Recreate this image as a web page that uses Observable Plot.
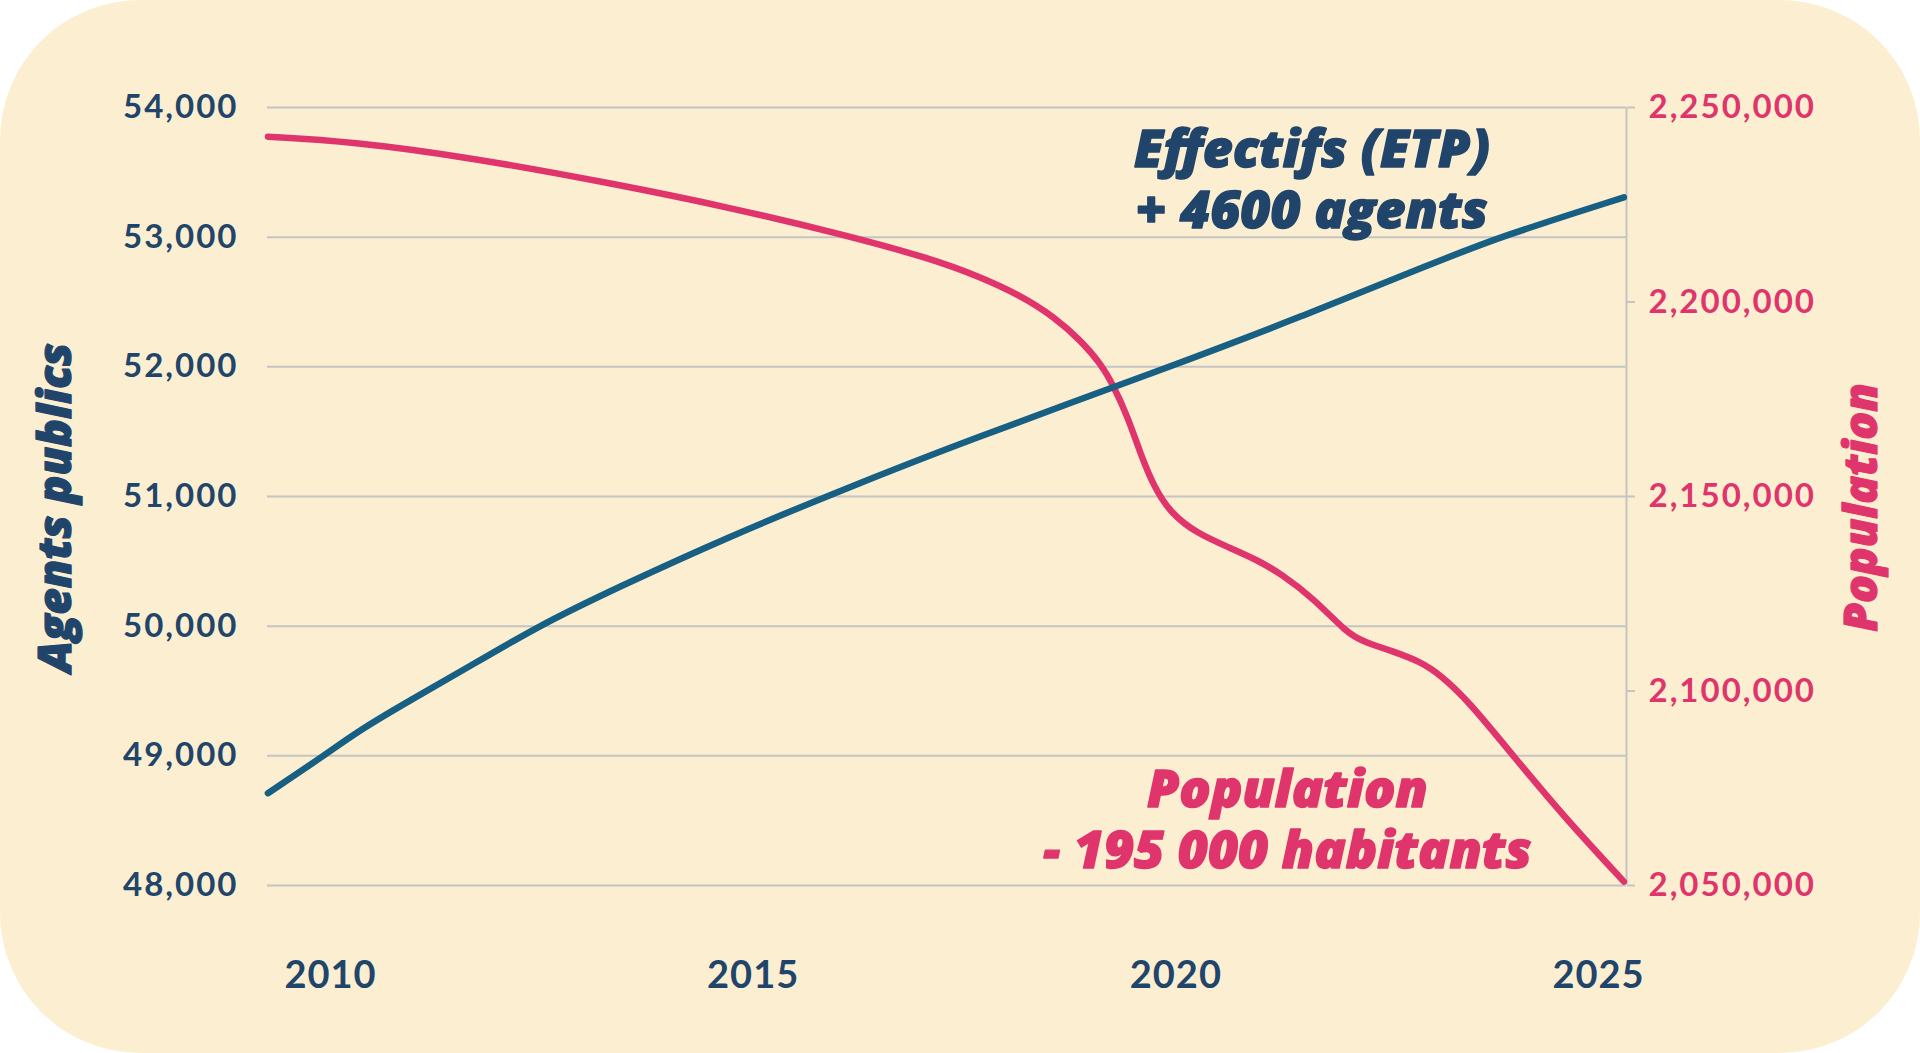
<!DOCTYPE html>
<html>
<head>
<meta charset="utf-8">
<script src="https://cdn.jsdelivr.net/npm/d3@7"></script>
<script src="https://cdn.jsdelivr.net/npm/@observablehq/plot@0.6"></script>
<style>
  html, body { margin: 0; padding: 0; background: #ffffff; overflow: hidden; }
  #card { position: relative; width: 1920px; height: 1053px; background: #fcefd1; border-radius: 140px; overflow: hidden; }
  #card svg { position: absolute; left: 0; top: 0; }
  #card svg [aria-label="y-axis tick label"] text { letter-spacing: 2px; }
  #card svg [aria-label="x-axis tick label"] text { letter-spacing: 1px; }
</style>
</head>
<body>
<div id="card"></div>
<script>
// ---- Data ----
const effYears = [2009.26, 2009.92, 2010.36, 2010.95, 2011.54, 2012.45, 2013.40, 2014.72, 2016.04, 2017.45, 2019.93, 2021.48, 2023.03, 2023.82, 2025.30];
const effValues = [48712, 49000, 49205, 49431, 49649, 50000, 50300, 50693, 51047, 51412, 52000, 52385, 52796, 53000, 53307];

const popYears = [2009.26, 2010.23, 2011.65, 2013.40, 2014.72, 2016.04, 2017.10, 2017.69, 2018.16, 2018.56, 2018.87, 2019.11, 2019.27, 2019.43, 2019.58, 2019.74, 2019.94, 2020.25, 2020.65, 2020.96, 2021.24, 2021.63, 2022.03, 2022.22, 2022.54, 2022.90, 2023.13, 2023.45, 2024.00, 2024.59, 2025.30];
const popValues = [2242500, 2241300, 2237200, 2230200, 2224300, 2217500, 2211200, 2206400, 2201700, 2196200, 2190200, 2184200, 2178200, 2170500, 2161100, 2152500, 2145700, 2140500, 2136700, 2133700, 2130200, 2123800, 2114800, 2112700, 2110400, 2107500, 2104100, 2097700, 2083100, 2067700, 2051000];

const xTicks = [2010, 2015, 2020, 2025];
const leftTicks = [48000, 49000, 50000, 51000, 52000, 53000, 54000];
const rightTicks = [2050000, 2100000, 2150000, 2200000, 2250000];

const leftTitle = "Agents publics";
const rightTitle = "Population";
const effNote = "Effectifs (ETP)\n+ 4600 agents";
const popNote = "Population\n- 195 000 habitants";

// ---- Styles ----
const navy = "#21456a";
const blue = "#175f83";
const pink = "#e0346c";
const grid = "#c4c4c2";
const font = "Lato, 'Open Sans', sans-serif";
const heavy = "'Open Sans', Lato, sans-serif";

const xDomain = [2009.255, 2025.331];
const leftDomain = [48000, 54000];
const rightDomain = [2050000, 2250000];
const toLeft = p => leftDomain[0] + (p - rightDomain[0]) * (leftDomain[1] - leftDomain[0]) / (rightDomain[1] - rightDomain[0]);
const fromLeft = v => rightDomain[0] + (v - leftDomain[0]) * (rightDomain[1] - rightDomain[0]) / (leftDomain[1] - leftDomain[0]);

const effData = effYears.map((y, i) => ({year: y, value: effValues[i]}));
const popData = popYears.map((y, i) => ({year: y, pop: popValues[i]}));
const fmt = d3.format(",");

const noteStyle = {fontFamily: heavy, fontSize: 52, fontWeight: 800, fontStyle: "italic", textAnchor: "middle", lineAnchor: "middle", lineHeight: 1.175, strokeWidth: 1.4, paintOrder: "stroke"};
const titleStyle = {rotate: -90, textAnchor: "middle", lineAnchor: "middle", fontFamily: heavy, fontSize: 46, fontWeight: 800, fontStyle: "italic", strokeWidth: 1.2, paintOrder: "stroke"};

const chart = Plot.plot({
  width: 1920,
  height: 1053,
  marginLeft: 267,
  marginRight: 294,
  marginTop: 107,
  marginBottom: 168,
  style: {background: "transparent", fontFamily: font, overflow: "visible"},
  x: {domain: xDomain},
  y: {domain: leftDomain},
  marks: [
    Plot.gridY(leftTicks, {stroke: grid, strokeOpacity: 1, strokeWidth: 2}),
    Plot.ruleX([xDomain[1]], {stroke: grid, strokeWidth: 2}),
    Plot.axisY(leftTicks, {anchor: "left", tickSize: 0, tickPadding: 29, tickFormat: fmt, fontSize: 33, fontWeight: 700, fill: navy, label: null}),
    Plot.axisY(rightTicks.map(toLeft), {anchor: "right", tickSize: 8, tickPadding: 0, tickFormat: () => "", stroke: grid, strokeWidth: 2, label: null}),
    Plot.axisY(rightTicks.map(toLeft), {anchor: "right", tickSize: 0, tickPadding: 22, tickFormat: d => fmt(Math.round(fromLeft(d))), fontSize: 33, fontWeight: 700, fill: pink, label: null}),
    Plot.axisX(xTicks, {anchor: "bottom", tickSize: 0, tickPadding: 76, tickFormat: d => String(d), fontSize: 38, fontWeight: 700, fill: navy, label: null}),
    Plot.line(popData, {x: "year", y: d => toLeft(d.pop), stroke: pink, strokeWidth: 6.5, curve: "basis"}),
    Plot.line(effData, {x: "year", y: "value", stroke: blue, strokeWidth: 6.5, curve: "basis"}),
    Plot.text([effNote], {x: () => 2021.61, y: () => 53455, text: d => d, ...noteStyle, fill: navy, stroke: navy}),
    Plot.text([popNote], {x: () => 2021.32, y: () => 48523, text: d => d, ...noteStyle, fill: pink, stroke: pink}),
    Plot.text([leftTitle], {frameAnchor: "left", dx: -211, dy: 11, text: d => d, ...titleStyle, fill: navy, stroke: navy}),
    Plot.text([rightTitle], {frameAnchor: "right", dx: 236, dy: 11, text: d => d, ...titleStyle, fill: pink, stroke: pink})
  ]
});
document.getElementById("card").appendChild(chart);
</script>
</body>
</html>
